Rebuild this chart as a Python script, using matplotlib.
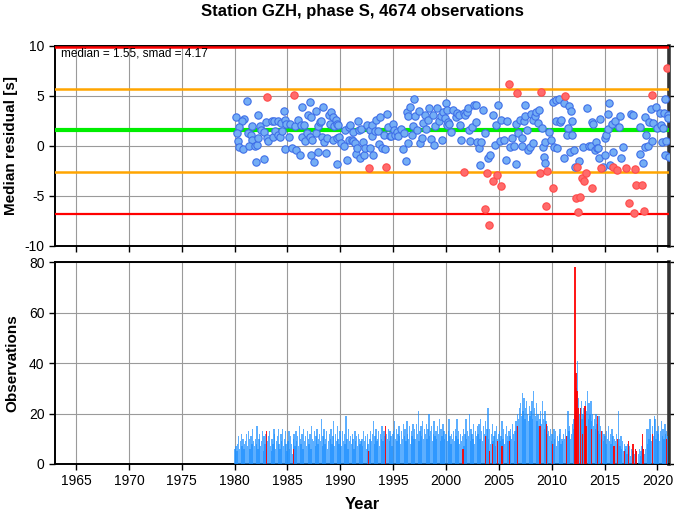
import numpy as np
import matplotlib
matplotlib.use("Agg")
import matplotlib.pyplot as plt

plt.rcParams["font.family"] = ["Liberation Sans", "DejaVu Sans"]
plt.rcParams["axes.unicode_minus"] = False

station = "GZH"
phase = "S"
n_obs = 4674
median = 1.55
smad = 4.17

# monthly medians (year, residual)
blue_t = [1981.2, 1980.1, 1980.9, 1980.7, 1980.4, 1980.2, 1980.3, 1980.4, 1980.8, 1981.3,
          1981.5, 1981.6, 1981.6, 1981.4, 1981.9, 1982.1, 1982.0, 1982.2, 1982.4, 1982.5,
          1982.2, 1982.8, 1982.8, 1983.0, 1983.1, 1983.2, 1983.5, 1983.7, 1983.6, 1983.8,
          1984.1, 1984.1, 1984.3, 1984.4, 1984.5, 1984.7, 1984.8, 1984.9, 1985.1, 1984.8,
          1985.2, 1985.4, 1985.8, 1985.7, 1986.0, 1986.2, 1986.4, 1986.3, 1986.4, 1986.6,
          1986.8, 1986.7, 1986.9, 1987.1, 1987.2, 1987.1, 1987.3, 1987.2, 1987.5, 1987.7,
          1987.7, 1987.9, 1987.9, 1988.1, 1988.2, 1988.4, 1988.3, 1988.5, 1988.6, 1988.7,
          1988.9, 1989.0, 1989.1, 1989.3, 1989.3, 1989.4, 1989.6, 1989.7, 1989.7, 1989.7,
          1989.8, 1989.9, 1990.1, 1990.3, 1990.4, 1990.6, 1990.8, 1990.9, 1990.8, 1991.1,
          1991.2, 1991.2, 1991.4, 1991.5, 1991.6, 1991.7, 1991.8, 1991.9, 1992.0, 1992.1,
          1992.2, 1992.3, 1992.5, 1992.8, 1992.8, 1993.0, 1993.0, 1993.1, 1993.3, 1993.4,
          1993.6, 1993.7, 1993.8, 1993.9, 1994.1, 1994.2, 1994.4, 1994.5, 1994.7, 1994.8,
          1995.0, 1995.1, 1995.2, 1995.4, 1995.5, 1995.7, 1995.9, 1996.0, 1996.2, 1996.3,
          1996.4, 1996.4, 1996.6, 1996.8, 1996.9, 1997.0, 1997.1, 1997.3, 1997.4, 1997.5,
          1997.7, 1997.8, 1998.0, 1998.1, 1998.3, 1998.4, 1998.6, 1998.8, 1998.9, 1999.0,
          1999.1, 1999.3, 1999.5, 1999.6, 1999.7, 1999.9, 2000.0, 2000.1,
          2000.1, 2000.2, 2000.3, 2000.5, 2000.7, 2000.9, 2001.0, 2001.2, 2001.3, 2001.4,
          2001.7, 2001.8, 2002.0, 2002.1, 2002.2, 2002.3, 2002.5, 2002.6, 2002.8, 2002.8,
          2002.9, 2003.1, 2003.2, 2003.3, 2003.5, 2003.7, 2004.0, 2004.2, 2004.4, 2004.6,
          2004.7, 2004.9, 2005.1, 2005.2, 2005.5, 2005.7, 2005.8, 2006.1, 2006.2, 2006.4,
          2006.6, 2006.6, 2006.8, 2007.0, 2007.2, 2007.2, 2007.4, 2007.5, 2007.5, 2007.7,
          2007.8, 2007.9, 2008.0, 2008.2, 2008.2, 2008.4, 2008.5, 2008.7, 2008.8, 2009.1,
          2009.2, 2009.3, 2009.4, 2009.4, 2009.7, 2009.9, 2010.1, 2010.2, 2010.4, 2010.4,
          2010.5, 2010.7, 2010.8, 2010.9, 2011.2, 2011.2, 2011.4, 2011.5, 2011.6, 2011.7,
          2011.8, 2011.9, 2011.9, 2012.1, 2012.2, 2012.6, 2013.0, 2013.3, 2013.5, 2013.7,
          2013.8, 2013.9, 2014.1, 2014.2, 2014.3, 2014.4, 2014.5, 2014.6, 2014.9, 2015.0,
          2015.0, 2015.1, 2015.3, 2015.3, 2015.4, 2015.5, 2015.7, 2015.8, 2016.0, 2016.4,
          2016.5, 2016.6, 2016.7, 2017.5, 2017.7, 2018.4, 2018.4, 2018.6, 2018.8, 2018.9,
          2018.8, 2019.1, 2019.2, 2019.4, 2019.5, 2019.6, 2019.9, 2020.0, 2020.2, 2020.3,
          2020.4, 2020.5, 2020.6, 2020.7, 2020.7, 2020.8, 2021.0, 2021.0, 2021.1]
blue_r = [4.5, 2.9, 2.7, 2.5, 1.9, 1.3, 0.5, -0.1, -0.3, 1.3,
          1.1, 2.0, 0.6, 0.0, 0.0, 0.1, -1.6, 3.1, 2.0, 1.6,
          0.8, -1.3, 1.4, 2.4, 0.8, 0.5, 2.5, 2.5, 0.9, 1.5,
          2.5, 1.1, 0.9, 2.3, 1.5, 3.5, 2.6, 2.2, 0.9, -0.3,
          2.2, -0.2, -0.4, 2.0, 2.6, -0.9, 3.9, 2.1, 0.9, 2.1,
          1.3, 0.5, 3.1, 4.4, 2.9, 0.9, 0.6, -0.9, -1.6, 1.3,
          3.5, 2.0, -0.6, 2.4, 2.5, 3.9, 0.9, 0.4, -0.7, 0.8,
          3.1, 2.2, 3.4, 2.9, 0.6, 2.0, 2.6, 2.2, 0.8, -1.8,
          2.1, 0.9, 0.3, 0.0, 1.6, -1.4, 1.9, 2.1, 0.6, 0.6,
          1.4, 0.5, 0.3, -0.8, -0.2, 2.5, 1.6, -1.2, 1.7, 0.4,
          -0.9, -0.2, 2.1, -0.2, 1.6, 2.1, 1.0, -0.9, 1.5, 2.6,
          1.5, 0.2, 2.9, -0.2, 1.1, -0.3, 3.2, 1.9, 1.0, 1.0,
          2.2, 1.6, 1.1, 1.4, 1.0, 1.7, -0.3, 1.3, -1.5, 3.4,
          3.0, 0.3, 3.9, 1.1, 2.0, 4.7, 3.0, 1.6, 3.5, 0.3,
          0.8, 2.3, 3.1, 1.7, 2.6, 3.8, 0.7, 3.1, 0.1, 2.0,
          3.8, 2.5, 3.0, 0.6, 3.4, 2.8, 4.3, 2.1,
          3.6, 2.4, 2.2, 1.4, 3.6, 2.9, 3.3, 3.1, 2.1, 0.6,
          3.3, 3.1, 3.4, 3.8, 1.6, 0.5, 1.9, 4.1, 4.1, 2.4,
          0.4, -0.2, -1.9, 0.4, 3.6, 1.3, -1.2, -0.9, 3.1, 0.1,
          2.1, 4.1, 0.5, 2.6, 0.6, -1.4, 2.5, -0.1, 0.8, 0.0,
          -1.8, 2.2, 1.3, 2.6, 0.8, 0.0, 2.5, 4.1, 3.0, 1.6,
          -0.4, -0.1, 3.2, 0.3, 2.6, 3.0, 3.4, 2.3, 3.6, 1.8,
          -0.1, -1.1, -1.7, 0.4, 1.4, 0.6, 4.4, -0.1, 2.5, 4.6,
          -0.2, 4.7, 2.4, 2.6, 4.3, -1.2, 1.1, 1.8, 4.0, -0.6,
          3.5, 1.1, 2.5, -0.4, -2.1, -1.5, -0.1, 3.8, 0.0, 0.0,
          2.4, 2.2, -0.4, 0.4, -0.2, -0.2, -1.2, 2.7, -2.1, 0.8,
          -0.9, 1.1, 1.7, 3.2, 4.3, -1.9, 2.2, -0.6, 2.5, 1.9,
          3.0, -1.2, -0.1, 3.2, 3.1, -0.8, 1.9, -1.7, 2.9, 1.1,
          -0.1, 0.0, 2.4, 3.7, 0.5, 2.3, 3.9, 1.8, 3.3, 2.1,
          0.4, 1.8, 3.3, -0.9, 4.7, 0.5, 3.1, 2.8, -1.1]

# flagged months (drawn red)
red_t = [1983.1, 1985.6, 1992.7, 1994.3, 2001.7, 2003.7, 2003.9, 2004.1, 2004.4, 2004.8,
         2005.2, 2006.0, 2006.7, 2008.9, 2009.0, 2009.5, 2009.6, 2010.1, 2011.3, 2012.3,
         2012.4, 2012.5, 2012.7, 2012.9, 2013.1, 2013.2, 2013.8, 2014.7, 2015.8, 2016.2,
         2017.0, 2017.3, 2017.8, 2017.9, 2018.0, 2018.5, 2018.7, 2019.5, 2020.9]
red_r = [4.9, 5.1, -2.2, -2.1, -2.6, -6.3, -2.7, -7.9, -3.5, -2.9,
         -4.0, 6.2, 5.3, -2.7, 5.4, -6.0, -2.5, -4.2, 5.0, -5.2,
         -2.1, -6.6, -5.1, -3.2, -3.5, -2.7, -4.2, -2.2, -2.1, -2.4,
         -2.2, -5.7, -6.7, -2.3, -3.9, -3.9, -6.5, 5.1, 7.8]

# observations per month, Jan 1980 .. Dec 2020
counts = [
    6, 7, 5, 8, 11, 6, 9, 12, 7, 10, 6, 8,
    9, 12, 7, 13, 10, 6, 11, 8, 14, 9, 7, 10,
    8, 15, 6, 10, 12, 7, 9, 13, 5, 11, 8, 12,
    6, 9, 11, 13, 7, 5, 10, 8, 14, 12, 6, 9,
    11, 14, 8, 6, 12, 9, 14, 7, 10, 13, 8, 5,
    9, 13, 6, 11, 8, 4, 10, 12, 7, 13, 9, 11,
    7, 15, 10, 8, 12, 6, 14, 9, 11, 7, 13, 10,
    8, 12, 6, 15, 10, 9, 13, 7, 11, 14, 8, 10,
    12, 9, 18, 7, 11, 14, 8, 10, 13, 6, 9, 12,
    10, 14, 8, 11, 17, 7, 12, 9, 15, 10, 8, 13,
    11, 7, 13, 9, 12, 8, 19, 10, 6, 14, 9, 11,
    8, 12, 10, 6, 13, 9, 11, 7, 12, 10, 8, 9,
    10, 7, 13, 9, 11, 6, 12, 8, 5, 10, 13, 9,
    12, 17, 8, 11, 14, 9, 10, 13, 7, 12, 10, 15,
    9, 13, 11, 8, 12, 10, 14, 9, 13, 11, 7, 12,
    13, 17, 10, 14, 9, 12, 15, 11, 8, 13, 10, 16,
    11, 14, 9, 17, 12, 10, 15, 8, 13, 11, 16, 10,
    14, 10, 16, 12, 21, 9, 13, 15, 11, 17, 10, 14,
    12, 16, 10, 14, 20, 11, 13, 15, 9, 12, 17, 11,
    13, 10, 15, 12, 18, 9, 14, 11, 16, 13, 10, 12,
    12, 9, 13, 18, 11, 8, 12, 10, 13, 9, 14, 11,
    18, 10, 13, 8, 12, 9, 11, 14, 7, 12, 18, 10,
    13, 11, 20, 9, 14, 12, 10, 16, 8, 13, 11, 15,
    12, 16, 10, 18, 13, 9, 15, 12, 17, 11, 14, 22,
    10, 14, 8, 12, 16, 9, 11, 13, 7, 15, 10, 12,
    13, 9, 11, 17, 10, 14, 8, 12, 15, 11, 9, 13,
    11, 14, 10, 16, 12, 9, 13, 17, 15, 20, 18, 22,
    24, 19, 28, 21, 26, 18, 22, 25, 20, 17, 23, 19,
    21, 25, 18, 29, 22, 19, 24, 17, 20, 15, 18, 21,
    16, 25, 18, 14, 21, 17, 12, 15, 13, 11, 14, 9,
    12, 8, 14, 10, 13, 7, 11, 9, 12, 14, 8, 10,
    9, 12, 10, 14, 8, 11, 21, 13, 15, 10, 12, 16,
    14, 18, 20, 24, 30, 41, 26, 20, 22, 25, 18, 20,
    22, 19, 25, 21, 29, 18, 24, 20, 25, 17, 20, 15,
    18, 14, 20, 16, 13, 19, 12, 15, 10, 13, 9, 12,
    11, 8, 13, 10, 15, 9, 12, 8, 14, 11, 7, 10,
    9, 12, 8, 21, 10, 7, 11, 6, 9, 5, 8, 6,
    7, 4, 8, 5, 7, 3, 6, 0, 5, 4, 0, 6,
    5, 0, 4, 6, 3, 5, 7, 6, 0, 4, 6, 14,
    8, 14, 10, 18, 12, 9, 15, 11, 19, 18, 10, 13,
    12, 15, 9, 13, 17, 11, 14, 10, 16, 12, 13, 11,
]
red_bar_t = [1983.05, 1985.6, 1992.65, 1994.25, 2001.6, 2003.75, 2004.15, 2004.4, 2004.9, 2005.3,
             2006.0, 2006.75, 2008.9, 2009.5, 2010.1, 2011.4, 2012.2, 2012.3, 2012.4, 2012.55,
             2012.7, 2012.9, 2013.15, 2013.25, 2013.8, 2014.3, 2014.7, 2015.9, 2016.2, 2016.9,
             2017.3, 2017.7, 2017.9, 2018.0, 2018.6, 2018.7, 2019.5, 2020.9]
red_bar_n = [13, 6, 5, 15, 6, 11, 5, 8, 9, 7,
             9, 15, 15, 16, 8, 11, 78, 36, 29, 22,
             22, 12, 23, 15, 14, 19, 13, 7, 10, 5,
             9, 8, 6, 5, 12, 6, 12, 10]

month_t = 1980 + (np.arange(len(counts)) + 0.5) / 12.0

fig = plt.figure(figsize=(6.74, 5.11), dpi=100)
ax1 = fig.add_axes([0.0816, 0.5186, 0.911, 0.3914])
ax2 = fig.add_axes([0.0816, 0.092, 0.911, 0.395])

xlim = (1963, 2021.1)
xt = np.arange(1965, 2021, 5)

# top panel
ax1.axhline(median + 2 * smad, color="#ff0000", lw=1.8, zorder=3)
ax1.axhline(median - 2 * smad, color="#ff0000", lw=1.6, zorder=3)
ax1.axhline(median + smad, color="#ffa500", lw=1.8, zorder=3)
ax1.axhline(median - smad, color="#ffa500", lw=1.8, zorder=3)
ax1.axhline(median, color="#00ee00", lw=3.0, zorder=3)
ax1.scatter(blue_t, blue_r, s=28, facecolor="#74aef5", edgecolor="#3f6fe8", lw=0.8, zorder=4)
ax1.scatter(red_t, red_r, s=28, facecolor="#ff6b6b", edgecolor="#ff4a4a", lw=0.8, zorder=4)
ax1.text(1963.6, 9.2, "median = %.2f, smad = %.2f" % (median, smad), fontsize=8.5, va="center",
         zorder=5)
ax1.set_xlim(*xlim)
ax1.set_ylim(-10, 10)
ax1.set_yticks([-10, -5, 0, 5, 10])
ax1.set_xticks(xt)
ax1.tick_params(labelbottom=False)
ax1.set_ylabel("Median residual [s]", fontsize=11, fontweight="bold", labelpad=5)
fig.text(0.537, 0.978, "Station %s, phase %s, %d observations" % (station, phase, n_obs),
         fontsize=12, fontweight="bold", ha="center", va="center")

# bottom panel
ax2.bar(month_t, counts, width=0.13, color="#1e90ff", alpha=0.72, lw=0, zorder=3)
ax2.bar(red_bar_t, red_bar_n, width=0.11, color="#ff0000", alpha=0.9, lw=0, zorder=4)
ax2.set_xlim(*xlim)
ax2.set_ylim(0, 80)
ax2.set_yticks([0, 20, 40, 60, 80])
ax2.set_xticks(xt)
ax2.set_xlabel("Year", fontsize=12, fontweight="bold", labelpad=6)
ax2.set_ylabel("Observations", fontsize=11, fontweight="bold", labelpad=7)

for ax in (ax1, ax2):
    ax.grid(True, color="#9a9a9a", lw=0.8, zorder=0)
    ax.set_axisbelow(True)
    ax.tick_params(direction="out", length=4, width=1, labelsize=10, right=True)
    for side in ("left", "bottom", "top"):
        ax.spines[side].set_linewidth(1.4)
    ax.spines["right"].set_linewidth(2.6)
    ax.spines["right"].set_color("#333333")

fig.savefig("out.png", dpi=100)
